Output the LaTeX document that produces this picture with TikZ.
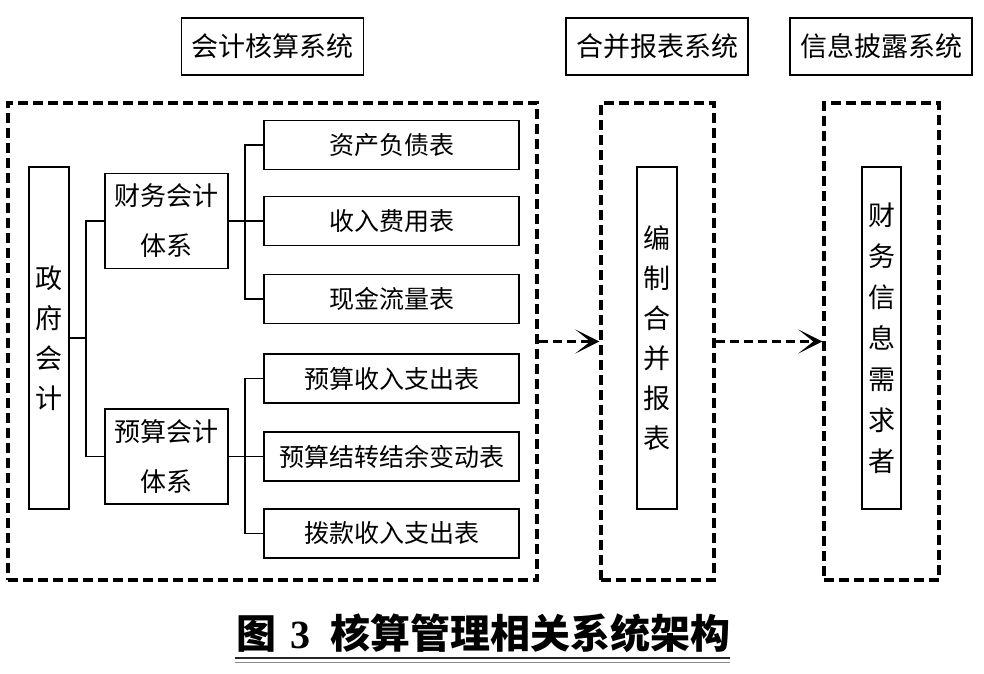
\documentclass[tikz,border=0pt]{standalone}
\usepackage{fontspec}
\setmainfont{Liberation Serif}
\newfontfamily\cjk{Noto Sans CJK SC}
\usetikzlibrary{arrows.meta}
\begin{document}
\begin{tikzpicture}[x=1pt,y=-1pt,
  box/.style={draw,line width=1.2pt,inner sep=0pt,align=center},
  topbox/.style={box,minimum width=182pt,minimum height=57pt,font=\cjk\fontsize{27}{27}\selectfont},
  dbox/.style={draw,line width=3.4pt,dash pattern=on 10pt off 5pt,inner sep=0pt},
  rbox/.style={box,minimum width=255pt,minimum height=49pt,font=\cjk\fontsize{25}{25}\selectfont},
  sbox/.style={box,minimum width=123pt,minimum height=95pt,font=\cjk\fontsize{26}{50}\selectfont},
  vbox/.style={box,minimum width=40pt,minimum height=342pt,font=\cjk\fontsize{27}{40}\selectfont},
  conn/.style={line width=1.2pt},
  darrow/.style={line width=3.4pt,dash pattern=on 9pt off 5pt,-{Stealth[length=24pt,width=24pt,inset=15pt]}}
]
\fill[white] (0,0) rectangle (984,673);
\useasboundingbox (0,0) rectangle (984,673);

% top titles
\node[topbox] (t1) at (272.5,46.5) {会计核算系统};
\node[topbox] (t2) at (657,46.5) {合并报表系统};
\node[topbox] (t3) at (881,46.5) {信息披露系统};

% dashed frames
\node[dbox,minimum width=529pt,minimum height=477pt] (d1) at (272.5,341.5) {};
\node[dbox,minimum width=113pt,minimum height=477pt] (d2) at (657.5,341.5) {};
\node[dbox,minimum width=115pt,minimum height=477pt] (d3) at (881.5,341.5) {};

% left system
\node[vbox] (g) at (49,338) {政\\府\\会\\计};
\node[sbox] (fa) at (166.5,221) {财务会计\\体系};
\node[sbox] (ys) at (166.5,456.5) {预算会计\\体系};

\node[rbox] (r1) at (391.5,145) {资产负债表};
\node[rbox] (r2) at (391.5,221) {收入费用表};
\node[rbox] (r3) at (391.5,299) {现金流量表};
\node[rbox] (r4) at (391.5,378.5) {预算收入支出表};
\node[rbox] (r5) at (391.5,456.5) {预算结转结余变动表};
\node[rbox] (r6) at (391.5,533.5) {拨款收入支出表};

\coordinate (j1) at (86,338);
\coordinate (k1) at (245,221);
\coordinate (k2) at (245,456.5);
\draw[conn] (g.east) -- (j1);
\draw[conn] (fa.west) -| (j1) |- (ys.west);
\draw[conn] (fa.east) -- (k1) -- (r2.west);
\draw[conn] (r1.west) -| (k1) |- (r3.west);
\draw[conn] (ys.east) -- (k2) -- (r5.west);
\draw[conn] (r4.west) -| (k2) |- (r6.west);

% middle and right
\node[vbox] (m) at (657,338) {编\\制\\合\\并\\报\\表};
\node[vbox,minimum width=39pt,font=\cjk\fontsize{27}{41}\selectfont] (n) at (881.5,338) {财\\务\\信\\息\\需\\求\\者};

\draw[darrow] (d1.east) -- (d2.west);
\draw[darrow] (d2.east) -- (d3.west);

% caption
\node (cap) at (483,633) {{\cjk\bfseries\fontsize{40}{40}\selectfont 图}\hspace{14pt}{\bfseries\fontsize{40}{40}\selectfont 3}\hspace{20pt}{\cjk\bfseries\fontsize{40}{40}\selectfont 核算管理相关系统架构}};
\coordinate (u1) at (235,658);
\coordinate (u2) at (730,658);
\coordinate (u3) at (235,662);
\coordinate (u4) at (730,662);
\draw[line width=2pt,black!85] (u1) -- (u2);
\draw[line width=1pt,black!45] (u3) -- (u4);
\end{tikzpicture}
\end{document}
